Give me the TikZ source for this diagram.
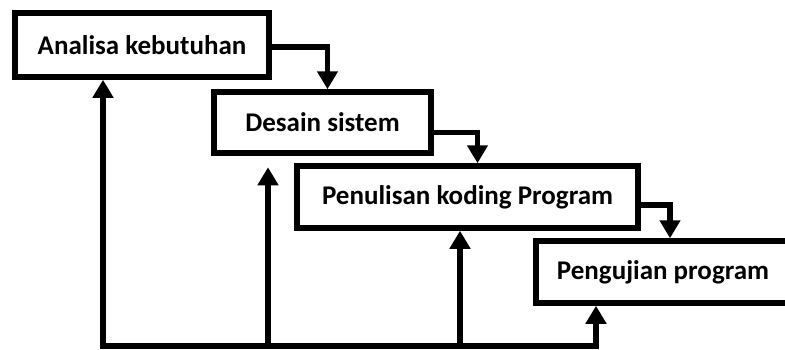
\documentclass[tikz,border=0pt]{standalone}
\usepackage{fontspec}
\setmainfont{Carlito}
\usetikzlibrary{arrows.meta}
\tikzset{box/.style={draw, line width=5.5pt, inner sep=0pt,
   font=\bfseries\fontsize{27}{32}\selectfont},
 flow/.style={line width=5.5pt, -{Triangle[width=20pt,length=18pt]}},
 base/.style={line width=5.5pt, line cap=rect},
 }

\begin{document}
\begin{tikzpicture}[x=1pt, y=-1pt]
        \useasboundingbox (0,0) rectangle (785,349);
        \node[box, minimum width=254pt, minimum height=64pt] (kebutuhan) at (142,45) {Analisa kebutuhan};
        \node[box, minimum width=217pt, minimum height=61pt] (desain) at (322.5,122.5) {Desain sistem};
        \node[box, minimum width=341pt, minimum height=62pt] (koding) at (467.5,197) {Penulisan koding Program};
        \node[box, minimum width=254pt, minimum height=62pt] (pengujian) at (663,272) {Pengujian program};
        % turun ke tahap berikutnya
        \draw[flow] ([yshift=-2pt]kebutuhan.east) -| ([xshift=5pt]desain.north);
        \draw[flow] ([yshift=-10pt]desain.east) -| ([xshift=10pt]koding.north);
        \draw[flow] ([yshift=-8pt]koding.east) -| ([xshift=7pt]pengujian.north);
        % garis balik
        \foreach \x[count=\i] in {103, 268, 460, 596} {
            \coordinate (b\i) at (\x,346);
        }
        \draw[base] (b1) -- (b4);
        \draw[flow] (b1) -- (b1 |- kebutuhan.south);
        \draw[flow] (b2) -- ([yshift=-11.5pt]b2 |- desain.south);
        \draw[flow] (b3) -- (b3 |- koding.south);
        \draw[flow] (b4) -- (b4 |- pengujian.south);
    \end{tikzpicture}
\end{document}
